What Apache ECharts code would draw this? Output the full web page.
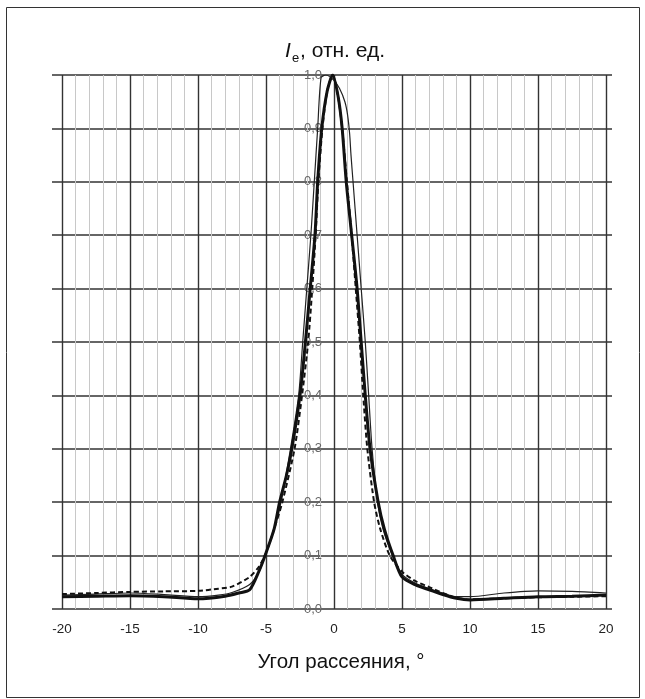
<!DOCTYPE html>
<html lang="ru">
<head>
<meta charset="UTF-8">
<title>Ie</title>
<script src="https://cdn.jsdelivr.net/npm/echarts@6/dist/echarts.min.js"></script>
<style>
  html, body { margin: 0; padding: 0; background: #fff; }
  #container { width: 645px; height: 699px; }
</style>
</head>
<body>
<div id="container"></div>
<script>
// thick solid curve
const thickX = [-20, -17.5, -15, -12.5, -10, -8, -7, -6.2, -5.5, -5, -4.4, -4, -3.5, -3.1, -2.5, -2.1, -1.75, -1.4, -1.2, -0.9, -0.5, -0.1, 0.3, 0.6, 0.9, 1.3, 1.7, 2.0, 2.3, 2.65, 3.25, 3.7, 4.35, 5, 6, 7, 8, 9, 10, 12.5, 15, 17.5, 20];
const thickY = [0.023, 0.024, 0.025, 0.023, 0.019, 0.024, 0.030, 0.036, 0.072, 0.105, 0.15, 0.2, 0.25, 0.3, 0.4, 0.5, 0.6, 0.7, 0.8, 0.9, 0.97, 1.0, 0.96, 0.9, 0.8, 0.7, 0.6, 0.5, 0.4, 0.3, 0.2, 0.15, 0.1, 0.06, 0.045, 0.036, 0.027, 0.02, 0.017, 0.02, 0.023, 0.024, 0.026];

// thin solid curve
const thinX = [-20, -17.5, -15, -12.5, -10, -8.5, -7.5, -6.2, -5.5, -5, -4.4, -3.9, -3.2, -2.6, -2.3, -2.0, -1.7, -1.45, -1.2, -0.95, -0.6, 0, 0.4, 0.8, 1.0, 1.15, 1.25, 1.4, 1.7, 2.0, 2.3, 2.55, 2.8, 3.2, 3.6, 4.3, 5, 6, 7, 8, 9, 10, 12.5, 15, 17.5, 20];
const thinY = [0.026, 0.028, 0.030, 0.027, 0.023, 0.026, 0.031, 0.046, 0.07, 0.105, 0.15, 0.2, 0.3, 0.4, 0.5, 0.6, 0.7, 0.8, 0.9, 0.995, 1.0, 0.99, 0.975, 0.95, 0.925, 0.89, 0.85, 0.8, 0.7, 0.6, 0.5, 0.4, 0.3, 0.2, 0.15, 0.1, 0.065, 0.048, 0.038, 0.03, 0.023, 0.023, 0.03, 0.034, 0.033, 0.03];

// dashed curve
const dashX = [-20, -17.5, -15, -12.5, -10, -8.5, -7.5, -6.2, -5.5, -5, -4.4, -3.8, -2.9, -2.35, -1.9, -1.6, -1.35, -1.15, -0.85, -0.5, -0.1, 0.3, 0.6, 0.95, 1.3, 1.6, 1.9, 2.15, 2.45, 2.95, 3.4, 4.1, 5, 6, 7, 8, 9, 10, 12.5, 15, 17.5, 20];
const dashY = [0.028, 0.030, 0.032, 0.033, 0.034, 0.038, 0.042, 0.06, 0.08, 0.105, 0.15, 0.2, 0.3, 0.4, 0.5, 0.6, 0.7, 0.8, 0.9, 0.97, 1.0, 0.96, 0.9, 0.8, 0.7, 0.6, 0.5, 0.4, 0.3, 0.2, 0.15, 0.1, 0.07, 0.052, 0.041, 0.03, 0.021, 0.018, 0.02, 0.022, 0.023, 0.024];

const xMin = -20, xMax = 20, xStep = 5;
const yMin = 0, yMax = 1, yStep = 0.1;

const pairs = (xs, ys) => xs.map((x, i) => [x, ys[i]]);
const FONT = 'Liberation Sans, Arial, sans-serif';

const chart = echarts.init(document.getElementById('container'), null, { renderer: 'canvas' });

chart.setOption({
  animation: false,
  backgroundColor: '#fff',
  grid: [
    // wider grid: horizontal lines run a little past ±20
    { left: 52, right: 33, top: 75, bottom: 90 },
    { left: 62, right: 39, top: 75, bottom: 90 }
  ],
  xAxis: [
    { gridIndex: 0, type: 'value', min: 0, max: 1, show: false },
    {
      gridIndex: 1, type: 'value', min: xMin, max: xMax, interval: xStep,
      axisLine: { show: false },
      axisTick: { show: false },
      axisLabel: { color: '#222', fontFamily: FONT, fontSize: 13.5, margin: 13 },
      splitLine: { show: true, lineStyle: { color: '#333', width: 1.4 } },
      minorTick: { show: false, splitNumber: 5 },
      minorSplitLine: { show: true, lineStyle: { color: '#c8c8c8', width: 1 } }
    }
  ],
  yAxis: [
    {
      gridIndex: 0, type: 'value', min: yMin, max: yMax, interval: yStep,
      axisLine: { show: false }, axisTick: { show: false }, axisLabel: { show: false },
      splitLine: { show: true, lineStyle: { color: '#333', width: 1.6 } }
    },
    {
      // labels sit beside the 0° line
      gridIndex: 1, type: 'value', min: yMin, max: yMax, interval: yStep,
      position: 'left', offset: -272,
      axisLine: { show: false, onZero: false },
      axisTick: { show: false },
      splitLine: { show: false },
      axisLabel: {
        color: '#666', fontFamily: FONT, fontSize: 13, margin: 12,
        formatter: v => v.toFixed(1).replace('.', ',')
      }
    }
  ],
  series: [
    {
      name: 'thin', type: 'line', xAxisIndex: 1, yAxisIndex: 1,
      data: pairs(thinX, thinY), smooth: 0.25, showSymbol: false,
      lineStyle: { color: '#222', width: 1.2 }
    },
    {
      name: 'dashed', type: 'line', xAxisIndex: 1, yAxisIndex: 1,
      data: pairs(dashX, dashY), smooth: 0.25, showSymbol: false,
      lineStyle: { color: '#111', width: 2, type: [5, 3] }
    },
    {
      name: 'thick', type: 'line', xAxisIndex: 1, yAxisIndex: 1,
      data: pairs(thickX, thickY), smooth: 0.25, showSymbol: false,
      lineStyle: { color: '#111', width: 3 }
    }
  ],
  graphic: [
    {
      type: 'rect', shape: { x: 6.5, y: 7.5, width: 633, height: 690 },
      style: { fill: null, stroke: '#333', lineWidth: 1 }, silent: true
    },
    {
      type: 'text', x: 285, y: 51,
      style: { text: 'I', fontFamily: FONT, fontSize: 21, fontStyle: 'italic', fill: '#111', verticalAlign: 'middle' }
    },
    {
      type: 'text', x: 292, y: 58,
      style: { text: 'e', fontFamily: FONT, fontSize: 13, fill: '#111', verticalAlign: 'middle' }
    },
    {
      type: 'text', x: 300, y: 51,
      style: { text: ', отн. ед.', fontFamily: FONT, fontSize: 21, fill: '#111', verticalAlign: 'middle' }
    },
    {
      type: 'text', x: 341, y: 662,
      style: {
        text: 'Угол рассеяния, °',
        align: 'center', verticalAlign: 'middle',
        fontFamily: FONT, fontSize: 20.5, fill: '#111'
      }
    }
  ]
});
</script>
</body>
</html>
